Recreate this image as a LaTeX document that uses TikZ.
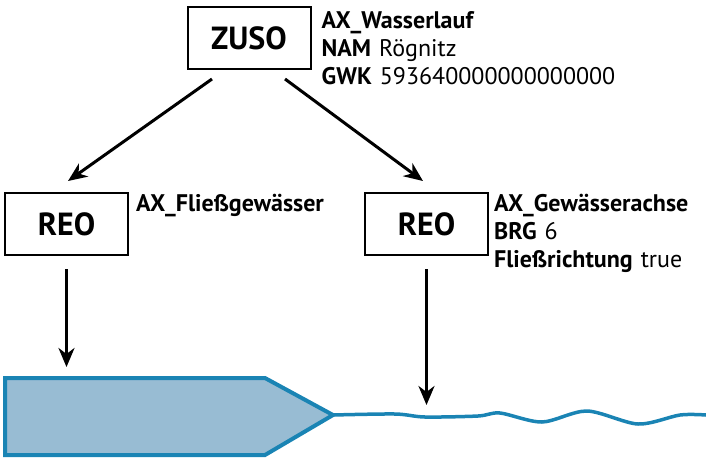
\documentclass[tikz,border=0pt]{standalone}
\usepackage{fontspec}
\setmainfont{PT Sans}
\usetikzlibrary{arrows.meta}
\definecolor{flussrand}{HTML}{1A84B4}
\definecolor{flussflaeche}{HTML}{98BCD3}

\begin{document}
\begin{tikzpicture}[x=1pt, y=-1pt,
    objekt/.style={draw, line width=2pt, minimum width=123pt, minimum height=62pt, inner sep=0pt, font=\fontsize{32}{32}\selectfont\bfseries},
    attr/.style={anchor=north west, inner sep=0pt, align=left, font=\fontsize{24}{28}\selectfont},
    pfeil/.style={line width=3pt, -{Stealth[length=19pt, width=16pt, inset=6pt]}},
    fluss/.style={draw=flussrand, line width=4pt, line join=miter}]

\useasboundingbox (0,0) rectangle (706,459);

% Objekte
\node[objekt] (zuso) at (249,38) {ZUSO};
\node[objekt] (reoA) at (66.5,224) {REO};
\node[objekt] (reoB) at (426.5,224) {REO};

% Attribute
\node[attr] (zusoAttr) at ([xshift=10,yshift=-5]zuso.north east) {\textbf{AX\_Wasserlauf}\\ \textbf{NAM}\hspace{8pt}Rögnitz\\ \textbf{GWK}\hspace{8pt}593640000000000000};
\node[attr] (reoAAttr) at ([xshift=7,yshift=-2]reoA.north east) {\textbf{AX\_Fließgewässer}};
\node[attr] (reoBAttr) at ([xshift=5,yshift=-2]reoB.north east) {\textbf{AX\_Gewässerachse}\\ \textbf{BRG}\hspace{8pt}6\\ \textbf{Fließrichtung}\hspace{8pt}true};

% Fläche und Achse
\draw[fluss, fill=flussflaeche] (5,378) -- (265,378) -- (333,415) -- (265,455) -- (5,455) -- cycle;
\draw[fluss, line width=3.5pt] plot[smooth] coordinates {(333,415) (395,414) (425,417) (478,416) (500,413) (542,422) (587,411) (638,424) (680,415) (706,415)};

\coordinate (flaecheOben) at (66.5,367);
\coordinate (achseOben) at (426.5,405);

% Pfeile
\draw[pfeil] ([xshift=-37,yshift=-9]zuso.south) -- ([xshift=1.5,yshift=11]reoA.north);
\draw[pfeil] ([xshift=36,yshift=-9]zuso.south) -- ([xshift=-3.5,yshift=11]reoB.north);
\draw[pfeil] ([yshift=-13]reoA.south) -- (flaecheOben);
\draw[pfeil] ([yshift=-13]reoB.south) -- (achseOben);

\end{tikzpicture}
\end{document}
